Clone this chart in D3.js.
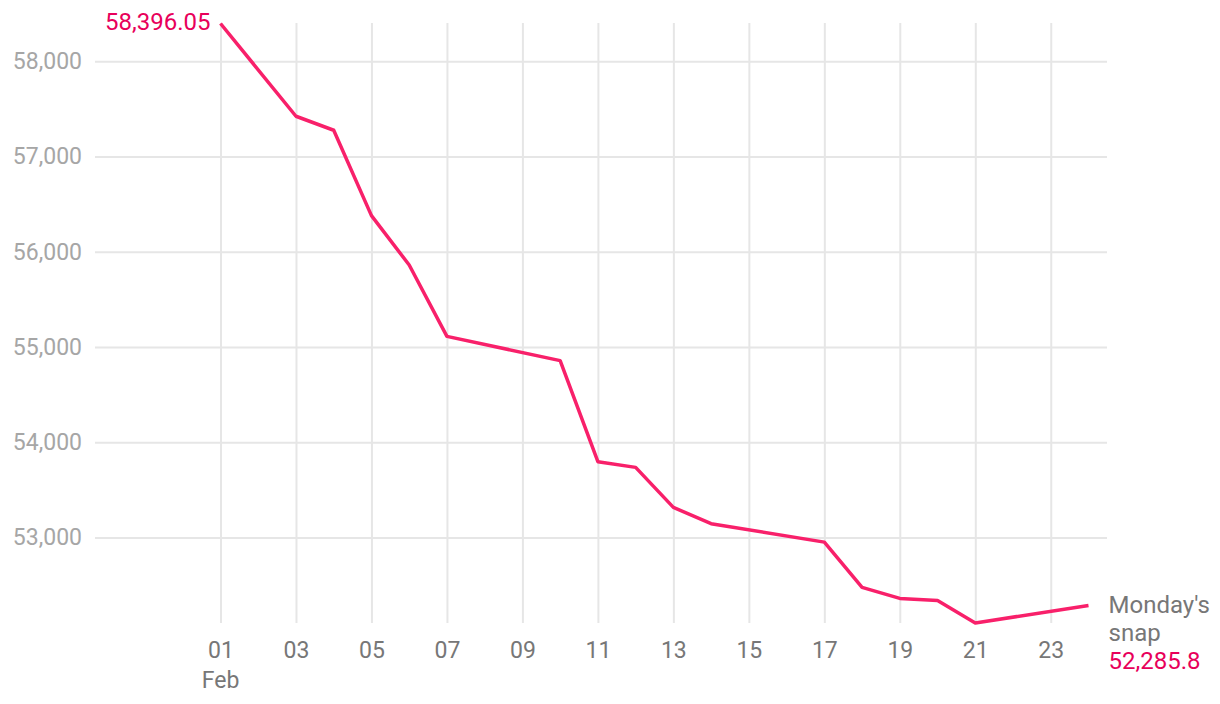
<!DOCTYPE html>
<html>
<head>
<meta charset="utf-8">
<script src="https://cdn.jsdelivr.net/npm/d3@7"></script>
<style>
  body { margin: 0; background: #fff; }
  svg text { font-family: Roboto, "Noto Sans", sans-serif; }
</style>
</head>
<body>
<script>
// Data: daily close, Feb 2025
var dates = ["2025-02-01", "2025-02-03", "2025-02-04", "2025-02-05", "2025-02-06", "2025-02-07",
             "2025-02-10", "2025-02-11", "2025-02-12", "2025-02-13", "2025-02-14",
             "2025-02-17", "2025-02-18", "2025-02-19", "2025-02-20", "2025-02-21", "2025-02-24"];
var closes = [58396.05, 57422, 57275, 56379, 55860, 55111,
              54856, 53795, 53735, 53315, 53144,
              52950, 52475, 52359, 52338, 52101, 52285.8];
var yTicks = [53000, 54000, 55000, 56000, 57000, 58000];
var endLabel = ["Monday's", "snap"];

var parse = d3.timeParse("%Y-%m-%d");
var data = dates.map(function(d, i) { return {date: parse(d), value: closes[i]}; });

var svg = d3.select("body").append("svg")
    .attr("width", 1220)
    .attr("height", 704);

var x = d3.scaleTime()
    .domain(d3.extent(data, function(d) { return d.date; }))
    .range([220.5, 1088.5]);

var y = d3.scaleLinear()
    .domain(d3.extent(data, function(d) { return d.value; }))
    .range([623, 23.5]);

// Horizontal grid + y labels
var yAxis = svg.append("g")
    .attr("transform", "translate(1107,0)")
    .call(d3.axisLeft(y).tickValues(yTicks).tickSize(1012).tickPadding(13).tickFormat(d3.format(",")));
yAxis.select(".domain").remove();
yAxis.selectAll("line").attr("stroke", "#e6e6e6").attr("stroke-width", 2);
yAxis.selectAll("text")
    .attr("fill", "#a6a6a6")
    .style("font-size", "23px");

// Vertical grid + x labels
var xAxis = svg.append("g")
    .attr("transform", "translate(0,623)")
    .call(d3.axisBottom(x).ticks(d3.timeDay.every(2)).tickSize(-600).tickFormat(d3.timeFormat("%d")));
xAxis.select(".domain").remove();
xAxis.selectAll("line").attr("stroke", "#e6e6e6").attr("stroke-width", 2);
xAxis.selectAll("text")
    .attr("y", 35)
    .attr("dy", 0)
    .attr("fill", "#777")
    .style("font-size", "23px");

svg.append("text")
    .attr("x", x(data[0].date))
    .attr("y", 688)
    .attr("text-anchor", "middle")
    .attr("fill", "#777")
    .style("font-size", "23px")
    .text("Feb");

// Line
var line = d3.line()
    .x(function(d) { return x(d.date); })
    .y(function(d) { return y(d.value); });

svg.append("path")
    .datum(data)
    .attr("fill", "none")
    .attr("stroke", "#f8206a")
    .attr("stroke-width", 3.5)
    .attr("stroke-linejoin", "round")
    .attr("d", line);

// Start label
var first = data[0], last = data[data.length - 1];
svg.append("text")
    .attr("x", x(first.date) - 10)
    .attr("y", 30)
    .attr("text-anchor", "end")
    .attr("fill", "#e8005a")
    .style("font-size", "24px")
    .text(d3.format(",")(first.value));

// End label
svg.selectAll("text.endlab")
    .data(endLabel)
    .enter().append("text")
    .attr("class", "endlab")
    .attr("x", x(last.date) + 20)
    .attr("y", function(d, i) { return 613 + i * 28; })
    .attr("fill", "#777")
    .style("font-size", "24px")
    .text(function(d) { return d; });

svg.append("text")
    .attr("x", x(last.date) + 20)
    .attr("y", 669)
    .attr("fill", "#e8005a")
    .style("font-size", "24px")
    .text(d3.format(",")(last.value));
</script>
</body>
</html>
